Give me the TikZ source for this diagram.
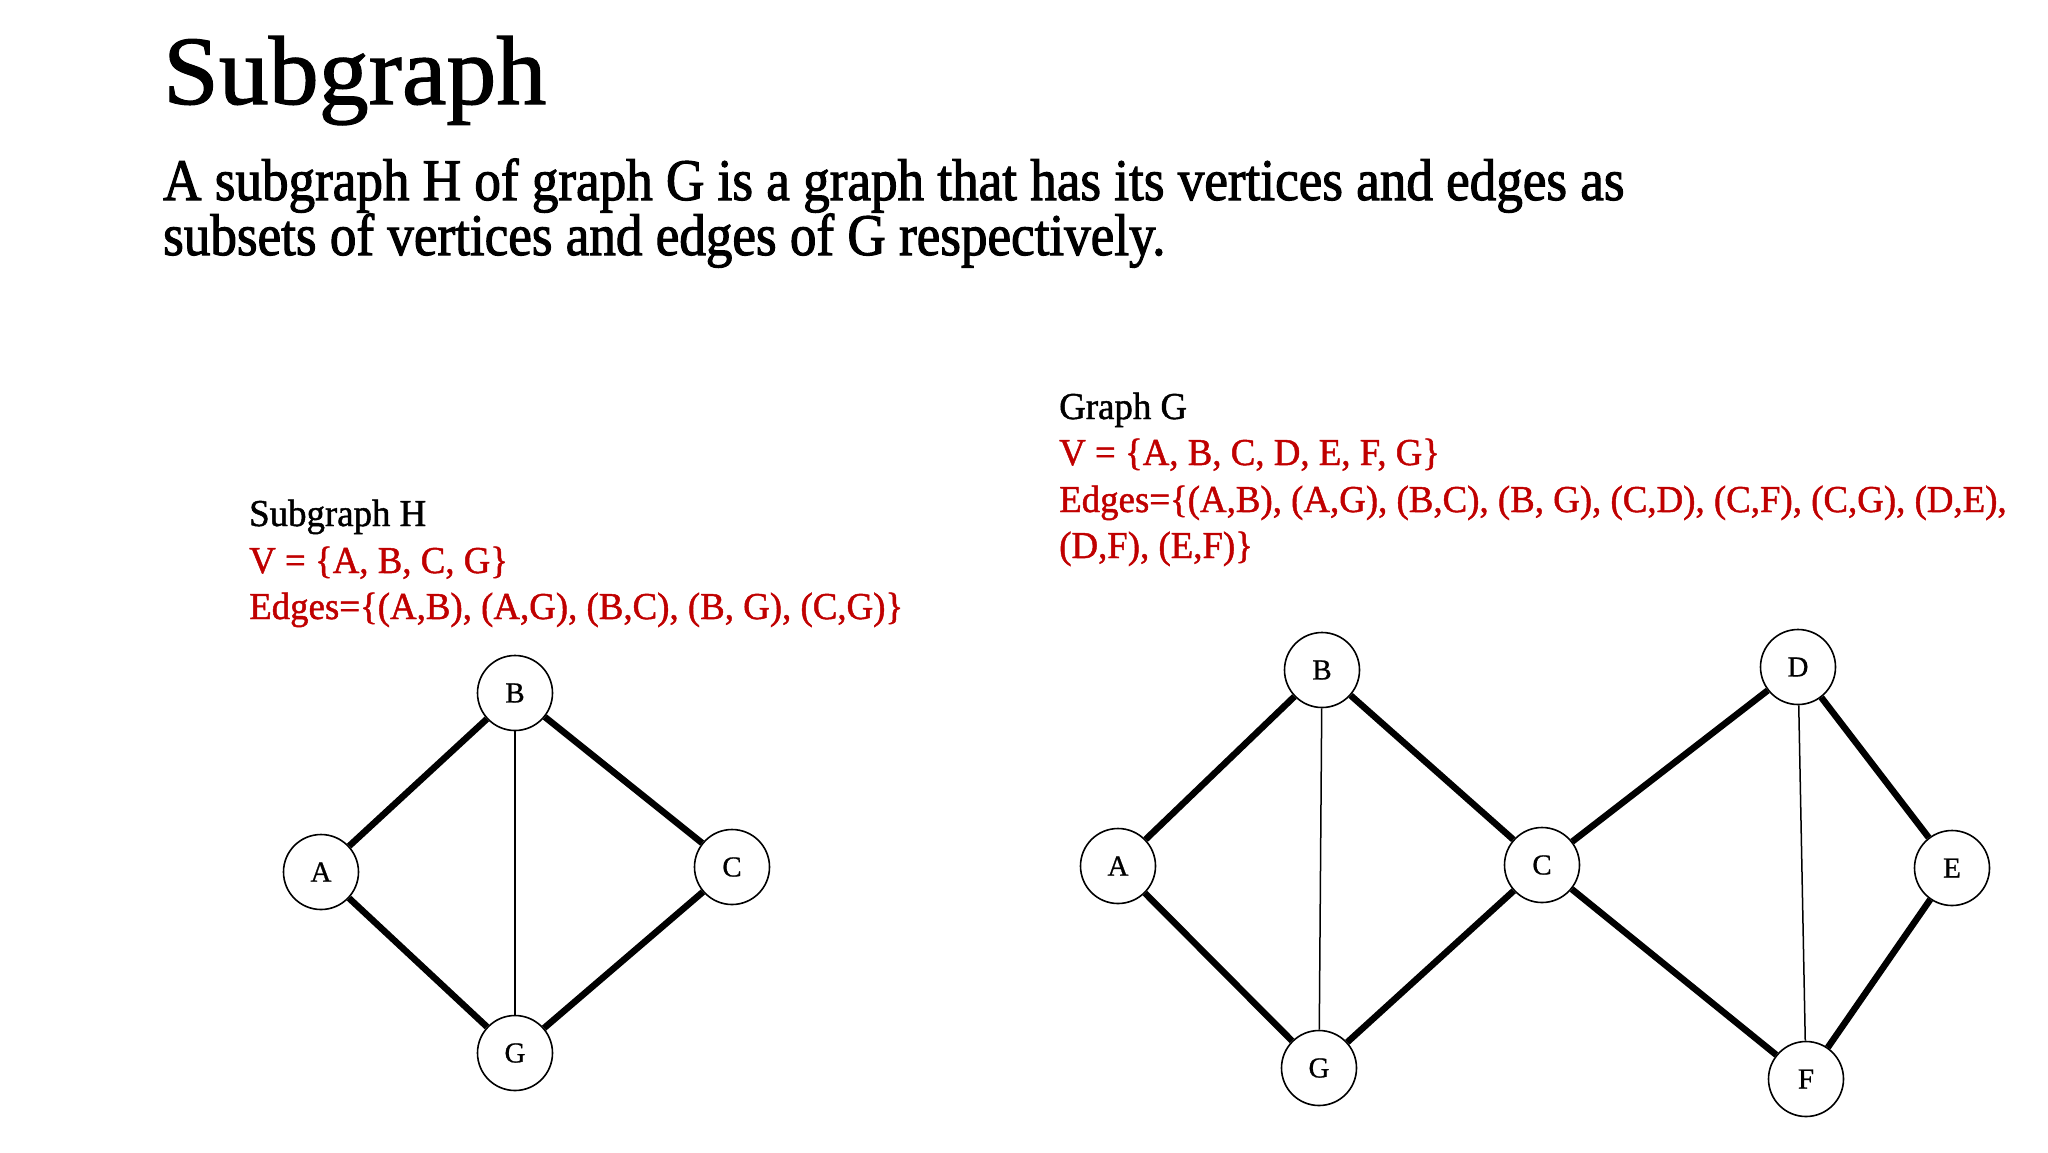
\documentclass[tikz,border=0pt]{standalone}
\usepackage{fontspec}
\setmainfont{Liberation Serif}
\newfontfamily\titlefont{Liberation Serif}[FakeStretch=1.02,FakeBold=1.2]
\newfontfamily\bodyfont{Liberation Serif}[FakeStretch=0.90,FakeBold=1.8]
\newfontfamily\lblfont{Liberation Serif}[FakeStretch=0.97,FakeBold=1.2]
\newfontfamily\nodefont{Liberation Serif}[FakeBold=0.8]
\definecolor{redtxt}{RGB}{192,0,0}
\tikzset{
  vtx/.style={circle, draw=black, line width=1.6pt, minimum size=75pt, inner sep=0pt, font=\nodefont\fontsize{29}{29}\selectfont},
  thickedge/.style={line width=6.5pt},
  thinedge/.style={line width=1.5pt},
  title/.style={anchor=base west, inner sep=0pt, font=\titlefont\fontsize{98}{98}\selectfont},
  body/.style={anchor=base west, inner sep=0pt, font=\bodyfont\fontsize{59}{59}\selectfont},
  lbl/.style={anchor=base west, inner sep=0pt, font=\lblfont\fontsize{38}{38}\selectfont},
  redlbl/.style={lbl, text=redtxt}
}
\begin{document}
\begin{tikzpicture}[x=1pt,y=-1pt]
\useasboundingbox (0,0) rectangle (2048,1152);
% texts
\node[title] (ttl) at (163,104) {Subgraph};
\node[body] (b1) at (163,200) {A subgraph H of graph G is a graph that has its vertices and edges as};
\node[body] (b2) at (163,255) {subsets of vertices and edges of G respectively.};
\node[lbl] (hh) at (249,526) {Subgraph H};
\node[redlbl] (hv) at (249,573) {V = \{A, B, C, G\}};
\node[redlbl] (he) at (249,619) {Edges=\{(A,B), (A,G), (B,C), (B, G), (C,G)\}};
\node[lbl] (gg) at (1059,419) {Graph G};
\node[redlbl] (gv) at (1059,465) {V = \{A, B, C, D, E, F, G\}};
\node[redlbl] (ge1) at (1059,512) {Edges=\{(A,B), (A,G), (B,C), (B, G), (C,D), (C,F), (C,G), (D,E),};
\node[redlbl] (ge2) at (1059,558) {(D,F), (E,F)\}};
% subgraph H
\node[vtx] (hB) at (515,693) {B};
\node[vtx] (hA) at (321,872) {A};
\node[vtx] (hC) at (732,867) {C};
\node[vtx] (hG) at (515,1053) {G};
\draw[thickedge] (hA) -- (hB);
\draw[thickedge] (hB) -- (hC);
\draw[thickedge] (hA) -- (hG);
\draw[thickedge] (hC) -- (hG);
\draw[thinedge] (hB) -- (hG);
% graph G
\node[vtx] (gB) at (1322,670) {B};
\node[vtx] (gA) at (1118,866) {A};
\node[vtx] (gC) at (1542,865) {C};
\node[vtx] (gG) at (1319,1068) {G};
\node[vtx] (gD) at (1798,667) {D};
\node[vtx] (gE) at (1952,868) {E};
\node[vtx] (gF) at (1806,1079) {F};
\draw[thickedge] (gA) -- (gB);
\draw[thickedge] (gA) -- (gG);
\draw[thickedge] (gB) -- (gC);
\draw[thinedge] (gB) -- (gG);
\draw[thickedge] (gC) -- (gD);
\draw[thickedge] (gC) -- (gF);
\draw[thickedge] (gC) -- (gG);
\draw[thickedge] (gD) -- (gE);
\draw[thinedge] (gD) -- (gF);
\draw[thickedge] (gE) -- (gF);
\end{tikzpicture}
\end{document}
